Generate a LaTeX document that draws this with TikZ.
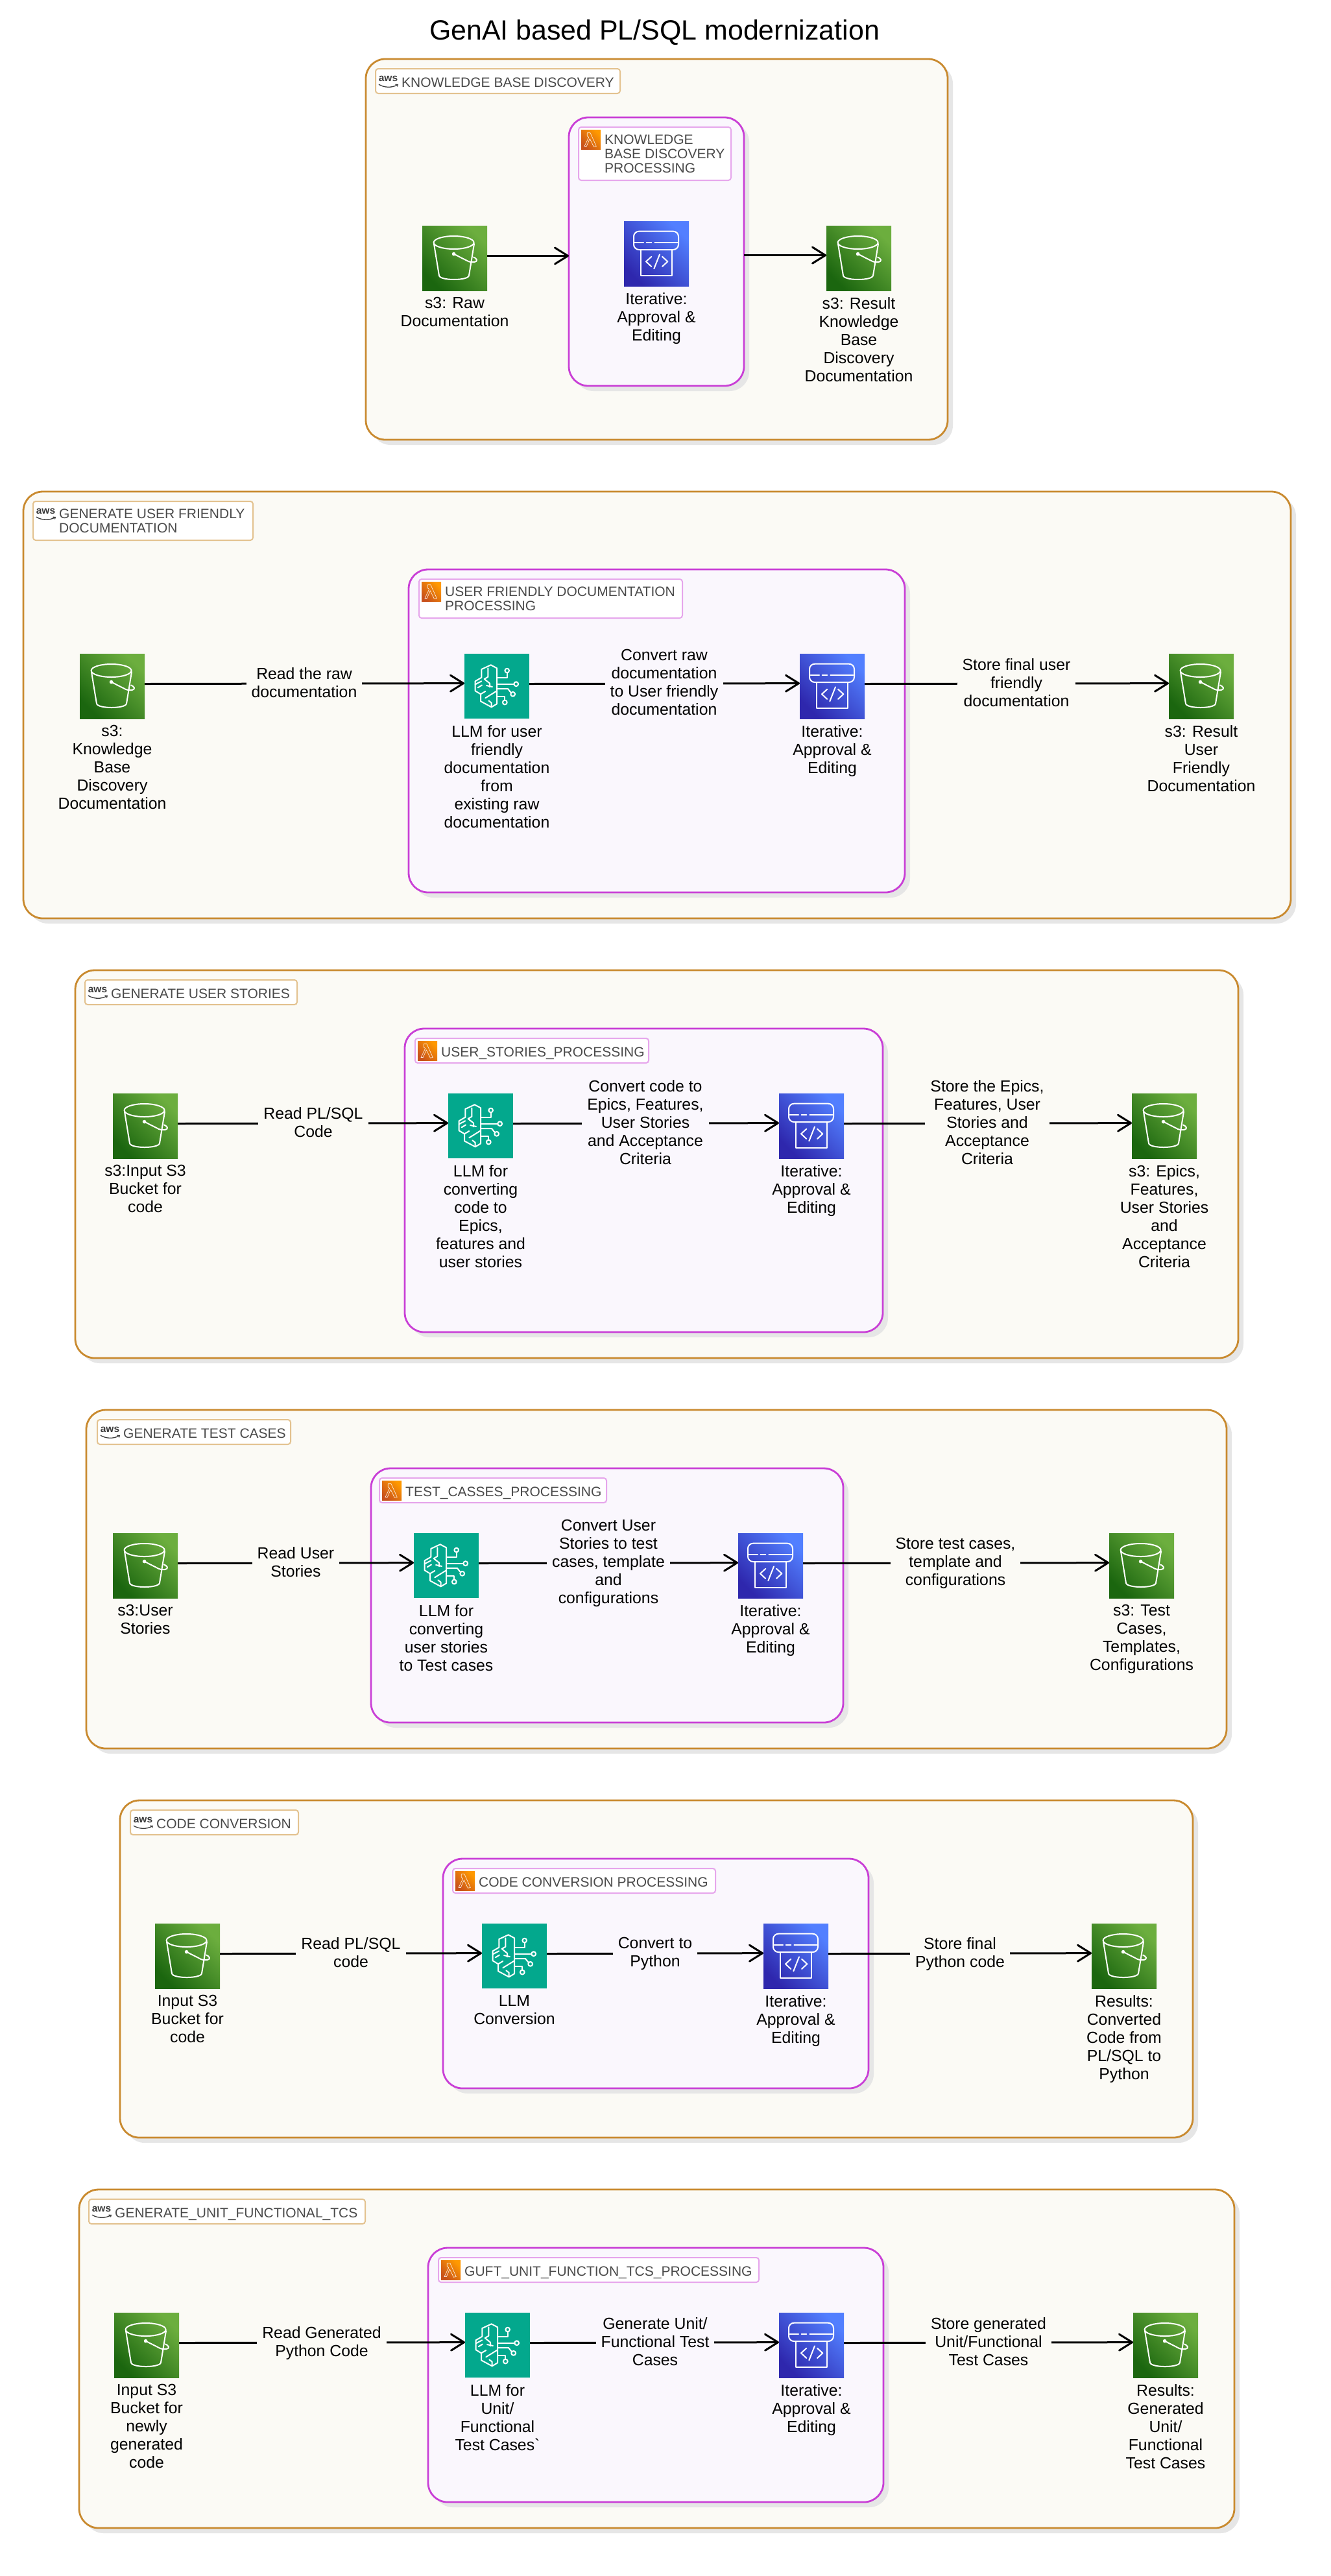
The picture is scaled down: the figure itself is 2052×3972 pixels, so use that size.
\documentclass[tikz,border=0pt]{standalone}
\usepackage{fontspec}
\setmainfont{Liberation Sans}
\usetikzlibrary{arrows.meta,calc}
\definecolor{outerfill}{HTML}{FBFAF5}
\definecolor{outerline}{HTML}{C98A2F}
\definecolor{outertag}{HTML}{E3C28F}
\definecolor{innerfill}{HTML}{FAF7FD}
\definecolor{innerline}{HTML}{C93FD6}
\definecolor{innertag}{HTML}{E6A6EC}
\definecolor{shadowgrey}{HTML}{E6E6E6}
\definecolor{tagtext}{HTML}{4A4A4A}
\definecolor{awsdark}{HTML}{3A3A3A}
\definecolor{sthree}{HTML}{6CAE3E}
\definecolor{sthreed}{HTML}{1B660F}
\definecolor{llmteal}{HTML}{03A88D}
\definecolor{iterb}{HTML}{527FFF}
\definecolor{iterd}{HTML}{2E27AD}
\definecolor{lamb}{HTML}{FF9900}
\definecolor{lamd}{HTML}{C8511B}
\tikzset{
  outerbox/.style={draw=outerline,fill=outerfill,line width=2.8pt,rounded corners=30pt,inner sep=0pt,outer sep=0pt},
  innerbox/.style={draw=innerline,fill=innerfill,line width=2.8pt,rounded corners=30pt,inner sep=0pt,outer sep=0pt},
  shadowbox/.style={fill=shadowgrey,rounded corners=30pt},
  tagbox/.style={fill=white,line width=2pt,rounded corners=4pt,inner sep=0pt,outer sep=0pt},
  tagtextstyle/.style={text=tagtext,anchor=north west,inner sep=0pt,align=left,
    font=\fontsize{21}{22}\selectfont,execute at begin node={\rule{0pt}{16pt}}},
  iconbox/.style={minimum width=100pt,minimum height=100pt,inner sep=0pt,outer sep=0pt,anchor=north west},
  bucketbox/.style={iconbox,bottom color=sthreed,top color=sthree,shading angle=-45},
  llmbox/.style={iconbox,fill=llmteal},
  iterbox/.style={iconbox,bottom color=iterd,top color=iterb,shading angle=-45},
  lambox/.style={minimum width=30pt,minimum height=30pt,inner sep=0pt,outer sep=0pt,anchor=north west,
    bottom color=lamd,top color=lamb,shading angle=-45},
  glyph/.style={draw=white,line width=2pt,line join=round,line cap=round},
  capt/.style={anchor=north,inner sep=0pt,align=center,text=black,
    font=\fontsize{24.8}{28}\selectfont,execute at begin node={\rule{0pt}{20pt}}},
  elabel/.style={capt,inner xsep=8pt},
  flow/.style={draw=black,line width=3pt,-{Straight Barb[length=20pt,width=25pt,round]}},
  bucketglyph/.pic={
    \draw[glyph] (48.6,26) ellipse [x radius=31pt,y radius=10pt];
    \draw[glyph] (18,28) -- (26,77) .. controls (28,85) and (70,85) .. (72,77) -- (80,28);
    \fill[white] (48.6,43.6) circle [radius=2.8pt];
    \draw[glyph] (48.6,43.6) -- (71,55) .. controls (78,57.5) and (85,56) .. (84,52.5) .. controls (83,50) and (80,49) .. (79,48.5);
  },
  llmglyph/.pic={
    \draw[glyph] (26.3,36.7) -- (26.3,24) -- (40.7,17.3) -- (50,22.3) -- (50,77.3) -- (41.7,82.3) -- (25,73.3) -- (25,62.3) -- (16.7,57.3) -- (16.7,42.3) -- cycle;
    \draw[glyph] (36.3,22.3) -- (36.3,35.7) -- (30.7,39) -- (39,45.7) -- (39,51.3);
    \draw[glyph] (34,49) -- (43,51);
    \draw[glyph] (16.7,47.3) -- (26.3,42.3);
    \draw[glyph] (20.7,52.3) -- (27,48.5);
    \draw[glyph] (25,62.3) -- (32.3,58);
    \draw[glyph] (32.3,68.3) -- (50,57.3);
    \draw[glyph] (37.3,72.3) -- (41.7,75.7) -- (41.7,82.3);
    \draw[glyph] (50,37.3) -- (65.7,37.3) -- (65.7,29);
    \draw[glyph] (65.7,26) circle [radius=3.3pt];
    \draw[glyph] (50,46.7) -- (76,46.7);
    \draw[glyph] (79.7,46.7) circle [radius=3.4pt];
    \draw[glyph] (50,54) -- (67,54) -- (71.3,59.5);
    \draw[glyph] (74.7,62.3) circle [radius=3.4pt];
    \draw[glyph] (50,65.7) -- (62.3,65.7) -- (62.3,71.7);
    \draw[glyph] (62.3,75) circle [radius=3.4pt];
  },
  iterglyph/.pic={
    \draw[glyph,rounded corners=8pt] (15,15.7) rectangle (84,44);
    \draw[glyph] (16.7,33.3) -- (30,33.3);
    \draw[glyph] (34.7,33.3) -- (42.3,33.3);
    \draw[glyph] (47.3,33.3) -- (82.3,33.3);
    \draw[glyph,line cap=butt] (25.7,44) -- (25.7,84) -- (74,84) -- (74,44);
    \draw[glyph] (42.3,54.7) -- (34,62.3) -- (42.3,70);
    \draw[glyph] (59,54.7) -- (67.3,62.3) -- (59,70);
    \draw[glyph] (55,51.3) -- (46.3,73.3);
  },
  lamglyph/.pic={
    \draw[white,line width=0.7pt,line join=round,opacity=.85] (9.3,4.3) -- (14,4.3) -- (23.3,25) -- (19.3,25.7) -- (13.3,13.3) -- (8.3,25) -- (5,25) -- (11.7,11) -- (9.3,9.3) -- cycle;
  },
  awsglyph/.pic={
    \node[text=awsdark,inner sep=0pt,font=\fontsize{15.5}{15.5}\selectfont\bfseries] at (19.5,15) {aws};
    \draw[awsdark,line width=1.3pt] (5,24.2) .. controls (14,29.5) and (25,29.5) .. (33.5,25);
    \draw[awsdark,line width=1.1pt] (30.5,24.2) -- (34.4,24.4) -- (33.5,27.5);
  },
}
% #1 name, #2-#5 x1 y1 x2 y2
\newcommand\outergroup[5]{%
  \fill[shadowbox] (#2+8,#3+8) rectangle (#4+8,#5+8);
  \pgfmathsetmacro\bw{#4-#2}\pgfmathsetmacro\bh{#5-#3}%
  \node[outerbox,minimum width=\bw pt,minimum height=\bh pt,anchor=north west] (#1) at (#2,#3) {};}
\newcommand\innergroup[5]{%
  \fill[shadowbox] (#2+8,#3+8) rectangle (#4+8,#5+8);
  \pgfmathsetmacro\bw{#4-#2}\pgfmathsetmacro\bh{#5-#3}%
  \node[innerbox,minimum width=\bw pt,minimum height=\bh pt,anchor=north west] (#1) at (#2,#3) {};}
% #1 name #2-#5 box #6 text
\newcommand\awstag[6]{%
  \pgfmathsetmacro\bw{#4-#2}\pgfmathsetmacro\bh{#5-#3}%
  \node[tagbox,draw=outertag,minimum width=\bw pt,minimum height=\bh pt,anchor=north west] (#1) at (#2,#3) {};
  \pic at (#2,#3) {awsglyph};
  \node[tagtextstyle] (#1t) at (#2+40,#3+12) {#6};}
\newcommand\lamtag[6]{%
  \pgfmathsetmacro\bw{#4-#2}\pgfmathsetmacro\bh{#5-#3}%
  \node[tagbox,draw=innertag,minimum width=\bw pt,minimum height=\bh pt,anchor=north west] (#1) at (#2,#3) {};
  \node[lambox] (#1i) at (#2+4,#3+4.5) {};
  \pic at (#2+4,#3+4.5) {lamglyph};
  \node[tagtextstyle] (#1t) at (#2+40,#3+12) {#6};}
\newcommand\bucket[3]{\node[bucketbox] (#1) at (#2,#3) {}; \pic at (#2,#3) {bucketglyph};}
\newcommand\llm[3]{\node[llmbox] (#1) at (#2,#3) {}; \pic at (#2,#3) {llmglyph};}
\newcommand\iter[3]{\node[iterbox] (#1) at (#2,#3) {}; \pic at (#2,#3) {iterglyph};}
\newcommand\under[2]{\node[capt] (#1c) at ([yshift=-10pt]#1.south) {#2};}
% #1 name #2 fill #3 cx #4 edge y #5 lines #6 text
\newcommand\elab[6]{\node[elabel,fill=#2] (#1) at (#3,#4-14*#5+3) {#6};}
\newcommand\appr{Iterative:\\Approval \&\\Editing}
\begin{document}
\begin{tikzpicture}[x=1pt,y=-1pt]
\useasboundingbox (0,0) rectangle (2052,3972);
\fill[white] (0,0) rectangle (2052,3972);
\node[inner sep=0pt,font=\fontsize{42.9}{48}\selectfont] (title) at (1009,50) {GenAI based PL/SQL modernization};

% ---- group 1
\outergroup{g1}{564}{91}{1461}{678}
\awstag{g1t}{579}{106}{956}{144}{KNOWLEDGE BASE DISCOVERY}
\innergroup{p1}{877}{181}{1147}{595}
\lamtag{p1t}{892}{196}{1127}{278}{KNOWLEDGE\\BASE DISCOVERY\\PROCESSING}
\bucket{a1}{651}{348}
\iter{c1}{962}{341}
\bucket{d1}{1274}{348}
\draw[flow] (a1.4.57) -- (a1.4.57 -| p1.west);
\draw[flow] (d1.175.43 -| p1.east) -- (d1.175.43);
\under{a1}{s3: Raw\\Documentation}
\under{c1}{\appr}
\under{d1}{s3: Result\\Knowledge\\Base\\Discovery\\Documentation}

% ---- group 2
\outergroup{g2}{36}{758}{1990}{1416}
\awstag{g2t}{51}{773}{390}{833}{GENERATE USER FRIENDLY\\DOCUMENTATION}
\innergroup{p2}{630}{878}{1395}{1376}
\lamtag{p2t}{646}{893}{1052}{953}{USER FRIENDLY DOCUMENTATION\\PROCESSING}
\bucket{a2}{123}{1008}
\llm{b2}{716}{1008}
\iter{c2}{1233}{1008}
\bucket{d2}{1802}{1008}
\draw[flow] (a2.4.57) -- (b2.175.43);
\draw[flow] (b2.4.57) -- (c2.175.43);
\draw[flow] (c2.4.57) -- (d2.175.43);
\under{a2}{s3:\\Knowledge\\Base\\Discovery\\Documentation}
\under{b2}{LLM for user\\friendly\\documentation\\from\\existing raw\\documentation}
\under{c2}{\appr}
\under{d2}{s3: Result\\User\\Friendly\\Documentation}
\elab{e21}{outerfill}{469}{1054}{2}{Read the raw\\documentation}
\elab{e22}{innerfill}{1024}{1054}{4}{Convert raw\\documentation\\to User friendly\\documentation}
\elab{e23}{outerfill}{1567}{1054}{3}{Store final user\\friendly\\documentation}

% ---- group 3
\outergroup{g3}{116}{1496}{1909}{2094}
\awstag{g3t}{131}{1511}{458}{1549}{GENERATE USER STORIES}
\innergroup{p3}{624}{1586}{1361}{2054}
\lamtag{p3t}{640}{1601}{1000}{1639}{USER\_STORIES\_PROCESSING}
\bucket{a3}{174}{1686}
\llm{b3}{691}{1686}
\iter{c3}{1201}{1686}
\bucket{d3}{1745}{1686}
\draw[flow] (a3.4.57) -- (b3.175.43);
\draw[flow] (b3.4.57) -- (c3.175.43);
\draw[flow] (c3.4.57) -- (d3.175.43);
\under{a3}{s3:Input S3\\Bucket for\\code}
\under{b3}{LLM for\\converting\\code to\\Epics,\\features and\\user stories}
\under{c3}{\appr}
\under{d3}{s3: Epics,\\Features,\\User Stories\\and\\Acceptance\\Criteria}
\elab{e31}{outerfill}{483}{1732}{2}{Read PL/SQL\\Code}
\elab{e32}{innerfill}{995}{1732}{5}{Convert code to\\Epics, Features,\\User Stories\\and Acceptance\\Criteria}
\elab{e33}{outerfill}{1522}{1732}{5}{Store the Epics,\\Features, User\\Stories and\\Acceptance\\Criteria}

% ---- group 4
\outergroup{g4}{133}{2174}{1891}{2696}
\awstag{g4t}{150}{2189}{448}{2227}{GENERATE TEST CASES}
\innergroup{p4}{572}{2264}{1300}{2656}
\lamtag{p4t}{585}{2279}{935}{2317}{TEST\_CASSES\_PROCESSING}
\bucket{a4}{174}{2364}
\llm{b4}{638}{2364}
\iter{c4}{1138}{2364}
\bucket{d4}{1710}{2364}
\draw[flow] (a4.4.57) -- (b4.175.43);
\draw[flow] (b4.4.57) -- (c4.175.43);
\draw[flow] (c4.4.57) -- (d4.175.43);
\under{a4}{s3:User\\Stories}
\under{b4}{LLM for\\converting\\user stories\\to Test cases}
\under{c4}{\appr}
\under{d4}{s3: Test\\Cases,\\Templates,\\Configurations}
\elab{e41}{outerfill}{456}{2410}{2}{Read User\\Stories}
\elab{e42}{innerfill}{938}{2410}{5}{Convert User\\Stories to test\\cases, template\\and\\configurations}
\elab{e43}{outerfill}{1473}{2410}{3}{Store test cases,\\template and\\configurations}

% ---- group 5
\outergroup{g5}{185}{2776}{1839}{3296}
\awstag{g5t}{201}{2791}{460}{2829}{CODE CONVERSION}
\innergroup{p5}{683}{2866}{1339}{3220}
\lamtag{p5t}{698}{2881}{1103}{2919}{CODE CONVERSION PROCESSING}
\bucket{a5}{239}{2966}
\llm{b5}{743}{2966}
\iter{c5}{1177}{2966}
\bucket{d5}{1683}{2966}
\draw[flow] (a5.4.57) -- (b5.175.43);
\draw[flow] (b5.4.57) -- (c5.175.43);
\draw[flow] (c5.4.57) -- (d5.175.43);
\under{a5}{Input S3\\Bucket for\\code}
\under{b5}{LLM\\Conversion}
\under{c5}{\appr}
\under{d5}{Results:\\Converted\\Code from\\PL/SQL to\\Python}
\elab{e51}{outerfill}{541}{3012}{2}{Read PL/SQL\\code}
\elab{e52}{innerfill}{1010}{3012}{2}{Convert to\\Python}
\elab{e53}{outerfill}{1480}{3012}{2}{Store final\\Python code}

% ---- group 6
\outergroup{g6}{122}{3376}{1903}{3898}
\awstag{g6t}{137}{3391}{563}{3429}{GENERATE\_UNIT\_FUNCTIONAL\_TCS}
\innergroup{p6}{660}{3466}{1362}{3858}
\lamtag{p6t}{676}{3481}{1170}{3519}{GUFT\_UNIT\_FUNCTION\_TCS\_PROCESSING}
\bucket{a6}{176}{3566}
\llm{b6}{717}{3566}
\iter{c6}{1201}{3566}
\bucket{d6}{1747}{3566}
\draw[flow] (a6.4.57) -- (b6.175.43);
\draw[flow] (b6.4.57) -- (c6.175.43);
\draw[flow] (c6.4.57) -- (d6.175.43);
\under{a6}{Input S3\\Bucket for\\newly\\generated\\code}
\under{b6}{LLM for\\Unit/\\Functional\\Test Cases\textasciigrave}
\under{c6}{\appr}
\under{d6}{Results:\\Generated\\Unit/\\Functional\\Test Cases}
\elab{e61}{outerfill}{496}{3612}{2}{Read Generated\\Python Code}
\elab{e62}{innerfill}{1010}{3612}{3}{Generate Unit/\\Functional Test\\Cases}
\elab{e63}{outerfill}{1524}{3612}{3}{Store generated\\Unit/Functional\\Test Cases}
\end{tikzpicture}
\end{document}
